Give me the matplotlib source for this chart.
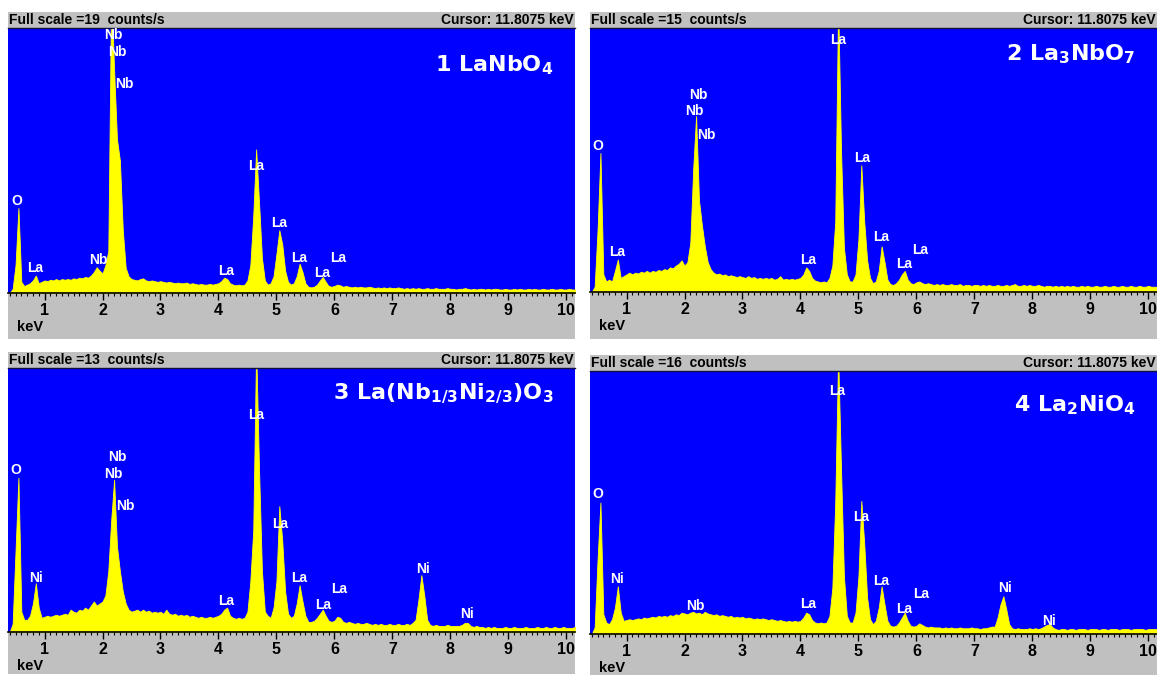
import numpy as np
import matplotlib
matplotlib.use("Agg")
import matplotlib.pyplot as plt
from matplotlib.ticker import MultipleLocator

plt.rcParams["mathtext.fontset"] = "dejavusans"
plt.rcParams["mathtext.default"] = "regular"

# energy channels (keV), 0.05 keV apart
kev = np.round(0.40 + 0.05 * np.arange(196), 2)

# 1 LaNbO4, full scale 19 counts/s
counts1 = [
    0.0, 0.3, 2.0, 6.1, 0.8, 0.5, 0.6, 0.7, 0.9, 1.25,
    0.7, 0.8, 0.9, 0.85, 0.95, 0.9, 1.0, 0.9, 1.0, 0.95,
    1.0, 0.95, 1.05, 1.0, 1.1, 1.05, 1.15, 1.1, 1.25, 1.5,
    1.85, 1.6, 1.4, 2.0, 3.0, 22.0, 16.0, 11.0, 9.5, 4.5,
    1.8, 1.2, 1.0, 0.95, 0.9, 1.0, 1.05, 0.9, 0.85, 0.9,
    0.85, 0.8, 0.85, 0.8, 0.75, 0.8, 0.75, 0.7, 0.75, 0.7,
    0.7, 0.75, 0.65, 0.7, 0.65, 0.6, 0.65, 0.6, 0.6, 0.65,
    0.6, 0.65, 0.7, 0.85, 1.1, 1.0, 0.7, 0.6, 0.55, 0.6,
    0.55, 0.6, 0.9, 2.0, 5.5, 10.3, 6.5, 2.5, 0.9, 0.6,
    0.7, 1.2, 2.8, 4.5, 3.5, 1.6, 0.8, 0.6, 0.7, 1.2,
    2.1, 1.5, 0.7, 0.45, 0.4, 0.45, 0.6, 0.9, 1.15, 0.8,
    0.5, 0.45, 0.5, 0.6, 0.55, 0.45, 0.5, 0.45, 0.4, 0.45,
    0.4, 0.45, 0.4, 0.4, 0.45, 0.4, 0.35, 0.4, 0.35, 0.4,
    0.35, 0.4, 0.35, 0.35, 0.4, 0.35, 0.3, 0.35, 0.3, 0.35,
    0.3, 0.35, 0.3, 0.3, 0.35, 0.3, 0.3, 0.35, 0.3, 0.3,
    0.3, 0.35, 0.3, 0.3, 0.25, 0.3, 0.3, 0.35, 0.3, 0.25,
    0.3, 0.25, 0.3, 0.3, 0.25, 0.3, 0.25, 0.3, 0.3, 0.25,
    0.25, 0.3, 0.25, 0.25, 0.3, 0.25, 0.3, 0.25, 0.25, 0.3,
    0.25, 0.3, 0.25, 0.25, 0.3, 0.25, 0.25, 0.3, 0.25, 0.25,
    0.3, 0.25, 0.25, 0.3, 0.25, 0.25,
]

# 2 La3NbO7, full scale 15 counts/s
counts2 = [
    0.0, 0.3, 3.5, 7.9, 1.0, 0.6, 0.7, 0.6, 1.2, 1.85,
    0.8, 0.9, 1.0, 1.1, 1.0, 1.1, 1.05, 1.15, 1.1, 1.2,
    1.1, 1.2, 1.15, 1.25, 1.2, 1.3, 1.25, 1.4, 1.35, 1.5,
    1.6, 1.8, 1.5, 1.7, 2.8, 7.0, 10.0, 5.2, 3.8, 2.6,
    1.7, 1.3, 1.1, 1.0, 1.05, 0.95, 1.0, 0.9, 0.95, 0.9,
    0.85, 0.9, 0.85, 0.8, 0.9, 0.8, 0.85, 0.75, 0.8, 0.75,
    0.8, 0.75, 0.8, 0.7, 0.75, 0.9, 0.7, 0.75, 0.7, 0.75,
    0.7, 0.75, 0.8, 1.0, 1.4, 1.2, 0.8, 0.65, 0.6, 0.55,
    0.6, 0.55, 0.8, 1.5, 4.0, 16.5, 8.0, 2.5, 1.0, 0.6,
    0.6, 1.0, 3.0, 7.2, 4.0, 1.8, 0.8, 0.5, 0.6, 1.2,
    2.6, 1.7, 0.7, 0.45, 0.4, 0.5, 0.7, 1.0, 1.2, 0.7,
    0.5, 0.45, 0.55, 0.6, 0.5, 0.45, 0.5, 0.45, 0.4, 0.45,
    0.4, 0.45, 0.4, 0.4, 0.45, 0.4, 0.4, 0.45, 0.35, 0.4,
    0.4, 0.35, 0.4, 0.4, 0.35, 0.4, 0.35, 0.4, 0.35, 0.35,
    0.4, 0.35, 0.35, 0.4, 0.35, 0.4, 0.45, 0.35, 0.35, 0.4,
    0.35, 0.4, 0.35, 0.35, 0.4, 0.35, 0.3, 0.35, 0.35, 0.3,
    0.35, 0.3, 0.35, 0.3, 0.35, 0.3, 0.35, 0.3, 0.3, 0.35,
    0.3, 0.35, 0.3, 0.3, 0.35, 0.3, 0.3, 0.35, 0.3, 0.3,
    0.35, 0.3, 0.3, 0.35, 0.3, 0.3, 0.35, 0.3, 0.3, 0.35,
    0.3, 0.3, 0.35, 0.3, 0.3, 0.3,
]

# 3 La(Nb1/3Ni2/3)O3, full scale 13 counts/s
counts3 = [
    0.0, 0.4, 4.0, 7.6, 1.0, 0.6, 0.6, 0.8, 1.4, 2.4,
    1.2, 0.7, 0.75, 0.8, 0.75, 0.8, 0.85, 0.8, 0.85, 0.9,
    0.85, 1.1, 1.0, 0.95, 1.1, 1.05, 1.2, 1.1, 1.3, 1.5,
    1.3, 1.4, 1.5, 1.8, 3.0, 5.5, 7.5, 4.2, 3.0, 2.0,
    1.4, 1.1, 1.0, 1.05, 1.1, 1.0, 1.1, 1.0, 1.05, 0.95,
    1.0, 0.95, 1.0, 0.9, 1.1, 0.9, 0.85, 0.9, 0.8, 0.85,
    0.8, 0.85, 0.75, 0.8, 0.75, 0.7, 0.75, 0.7, 0.7, 0.75,
    0.7, 0.75, 0.8, 0.9, 1.1, 1.2, 0.8, 0.7, 0.65, 0.7,
    0.65, 0.7, 1.0, 2.5, 5.0, 14.0, 8.0, 3.0, 1.0, 0.8,
    0.7, 1.2, 2.5, 6.2, 4.5, 2.0, 0.9, 0.7, 0.8, 1.4,
    2.3, 1.5, 0.8, 0.5, 0.5, 0.55, 0.7, 0.9, 1.1, 0.8,
    0.55, 0.5, 0.55, 0.75, 0.7, 0.5, 0.45, 0.5, 0.45, 0.4,
    0.45, 0.4, 0.4, 0.45, 0.4, 0.35, 0.4, 0.35, 0.4, 0.35,
    0.35, 0.4, 0.35, 0.35, 0.4, 0.35, 0.35, 0.4, 0.35, 0.45,
    0.6, 1.6, 2.8, 1.8, 0.6, 0.35, 0.3, 0.35, 0.3, 0.3,
    0.3, 0.35, 0.3, 0.3, 0.3, 0.3, 0.35, 0.45, 0.45, 0.3,
    0.25, 0.3, 0.25, 0.25, 0.2, 0.25, 0.2, 0.25, 0.2, 0.2,
    0.2, 0.25, 0.2, 0.2, 0.25, 0.2, 0.2, 0.2, 0.25, 0.2,
    0.2, 0.2, 0.25, 0.2, 0.2, 0.25, 0.2, 0.2, 0.25, 0.2,
    0.2, 0.25, 0.2, 0.2, 0.2, 0.25,
]

# 4 La2NiO4, full scale 16 counts/s
counts4 = [
    0.0, 0.4, 4.5, 8.0, 1.2, 0.7, 0.6, 0.9, 1.6, 2.9,
    1.3, 0.8, 0.85, 0.9, 0.85, 0.9, 0.95, 0.9, 1.0, 0.95,
    1.0, 1.05, 1.0, 1.1, 1.05, 1.1, 1.05, 1.15, 1.1, 1.2,
    1.15, 1.3, 1.25, 1.2, 1.3, 1.35, 1.25, 1.3, 1.2, 1.35,
    1.25, 1.2, 1.15, 1.2, 1.1, 1.15, 1.1, 1.05, 1.1, 1.0,
    1.05, 1.0, 1.05, 0.95, 1.0, 0.95, 0.9, 0.95, 0.9, 0.95,
    0.9, 0.85, 0.9, 0.85, 0.8, 0.85, 0.8, 0.75, 0.8, 0.75,
    0.8, 0.75, 0.8, 1.0, 1.3, 1.2, 0.85, 0.7, 0.65, 0.7,
    0.65, 0.7, 1.1, 2.8, 8.0, 17.0, 10.0, 3.5, 1.1, 0.7,
    0.7, 1.3, 3.5, 8.1, 5.5, 2.2, 0.9, 0.6, 0.8, 1.6,
    2.9, 1.8, 0.8, 0.5, 0.45, 0.5, 0.7, 1.0, 1.3, 0.8,
    0.5, 0.45, 0.5, 0.65, 0.55, 0.45, 0.4, 0.45, 0.4, 0.4,
    0.4, 0.35, 0.4, 0.35, 0.4, 0.35, 0.35, 0.4, 0.35, 0.35,
    0.35, 0.4, 0.35, 0.35, 0.3, 0.35, 0.35, 0.4, 0.45, 0.45,
    1.0, 1.8, 2.3, 1.5, 0.6, 0.35, 0.3, 0.35, 0.3, 0.3,
    0.3, 0.35, 0.3, 0.35, 0.3, 0.35, 0.45, 0.55, 0.6, 0.4,
    0.3, 0.25, 0.3, 0.3, 0.25, 0.3, 0.3, 0.25, 0.3, 0.3,
    0.3, 0.25, 0.3, 0.3, 0.3, 0.25, 0.3, 0.3, 0.25, 0.3,
    0.3, 0.3, 0.25, 0.3, 0.3, 0.3, 0.25, 0.3, 0.3, 0.3,
    0.3, 0.25, 0.3, 0.3, 0.3, 0.3,
]

full_scales = [19, 15, 13, 16]
titles = [
    r"1 LaNbO$_4$",
    r"2 La$_3$NbO$_7$",
    r"3 La(Nb$_{1/3}$Ni$_{2/3}$)O$_3$",
    r"4 La$_2$NiO$_4$",
]
title_y = [0.86, 0.90, 0.90, 0.87]

# peak labels: (keV, counts, text)
labels1 = [(0.52, 6.6, "O"), (0.83, 1.8, "La"), (1.92, 2.4, "Nb"),
           (2.18, 18.5, "Nb"), (2.26, 17.3, "Nb"), (2.38, 15.0, "Nb"),
           (4.14, 1.6, "La"), (4.65, 9.1, "La"), (5.05, 5.0, "La"),
           (5.39, 2.5, "La"), (5.79, 1.4, "La"), (6.07, 2.5, "La")]
labels2 = [(0.51, 8.3, "O"), (0.83, 2.25, "La"), (2.24, 11.2, "Nb"),
           (2.17, 10.3, "Nb"), (2.37, 8.9, "Nb"), (4.13, 1.8, "La"),
           (4.65, 14.3, "La"), (5.06, 7.6, "La"), (5.40, 3.1, "La"),
           (5.78, 1.6, "La"), (6.06, 2.4, "La")]
labels3 = [(0.51, 8.0, "O"), (0.85, 2.65, "Ni"), (2.26, 8.6, "Nb"),
           (2.19, 7.8, "Nb"), (2.39, 6.2, "Nb"), (4.14, 1.55, "La"),
           (4.65, 10.7, "La"), (5.06, 5.3, "La"), (5.40, 2.65, "La"),
           (5.81, 1.35, "La"), (6.08, 2.1, "La"), (7.53, 3.1, "Ni"),
           (8.29, 0.9, "Ni")]
labels4 = [(0.51, 8.5, "O"), (0.84, 3.35, "Ni"), (2.18, 1.7, "Nb"),
           (4.13, 1.8, "La"), (4.64, 14.8, "La"), (5.04, 7.1, "La"),
           (5.39, 3.2, "La"), (5.79, 1.5, "La"), (6.08, 2.45, "La"),
           (7.52, 2.8, "Ni"), (8.28, 0.8, "Ni")]

spectra = [counts1, counts2, counts3, counts4]
peak_labels = [labels1, labels2, labels3, labels4]
for s in spectra:
    assert len(s) == len(kev)

W, H = 1157, 675
# panel frames in pixels: left, right, header top, plot top, axis line, bottom
frames = [
    (8, 575, 12, 28, 293, 339),
    (590, 1157, 12, 28, 292, 339),
    (8, 575, 352, 368, 632, 674),
    (590, 1157, 355, 371, 634, 675),
]

GRAY = "#c0c0c0"
BLUE = "#0000ff"
YELLOW = "#ffff00"
hdr_font = dict(family="Liberation Sans", fontweight="bold", fontsize=10, color="black")


def box(l, t, r, b):
    return [l / W, 1 - b / H, (r - l) / W, (b - t) / H]


fig = plt.figure(figsize=(W / 100, H / 100), dpi=100, facecolor="white")

for k in range(4):
    l, r, ht, pt, ay, bt = frames[k]

    bg = fig.add_axes(box(l, ht, r, bt))
    bg.set_facecolor(GRAY)
    bg.set_xticks([])
    bg.set_yticks([])
    for sp in bg.spines.values():
        sp.set_visible(False)

    hy = 1 - (ht + pt) / 2 / H
    fig.text((l + 1) / W, hy, "Full scale =%d  counts/s" % full_scales[k],
             ha="left", va="center", **hdr_font)
    fig.text((r - 1) / W, hy, "Cursor: 11.8075 keV", ha="right", va="center", **hdr_font)

    ax = fig.add_axes(box(l, pt, r, ay))
    ax.set_facecolor(BLUE)
    ax.fill_between(kev, spectra[k], 0, color=YELLOW, lw=0.6, edgecolor=YELLOW)
    ax.set_xlim(0.37, 10.15)
    ax.set_ylim(0, full_scales[k])
    ax.set_yticks([])
    ax.set_xticks(range(1, 11))
    ax.xaxis.set_minor_locator(MultipleLocator(0.1))
    ax.tick_params(axis="x", which="major", direction="out", length=5, width=1,
                   pad=2.5, labelsize=11.5, colors="black")
    ax.tick_params(axis="x", which="minor", direction="out", length=2.5, width=0.8)
    for lab in ax.get_xticklabels():
        lab.set_fontfamily("Liberation Sans")
        lab.set_fontweight("bold")
    for side in ["left", "right"]:
        ax.spines[side].set_visible(False)
    ax.spines["top"].set_color("#101040")
    ax.spines["top"].set_linewidth(1.0)
    ax.spines["bottom"].set_color("black")
    ax.spines["bottom"].set_linewidth(1.2)

    ax.text(0.016, -0.128, "keV", transform=ax.transAxes, ha="left", va="center",
            family="Liberation Sans", fontweight="bold", fontsize=10.5, color="black")

    for x, y, s in peak_labels[k]:
        ax.text(x, y, s, ha="center", va="center", color="white", fontsize=10,
                family="Liberation Sans", fontweight="bold", clip_on=False)

    ax.text(0.962, title_y[k], titles[k], transform=ax.transAxes, ha="right",
            va="center", color="white", fontsize=16, fontweight="bold",
            family="DejaVu Sans")

fig.savefig("out.png", dpi=100, facecolor="white")
